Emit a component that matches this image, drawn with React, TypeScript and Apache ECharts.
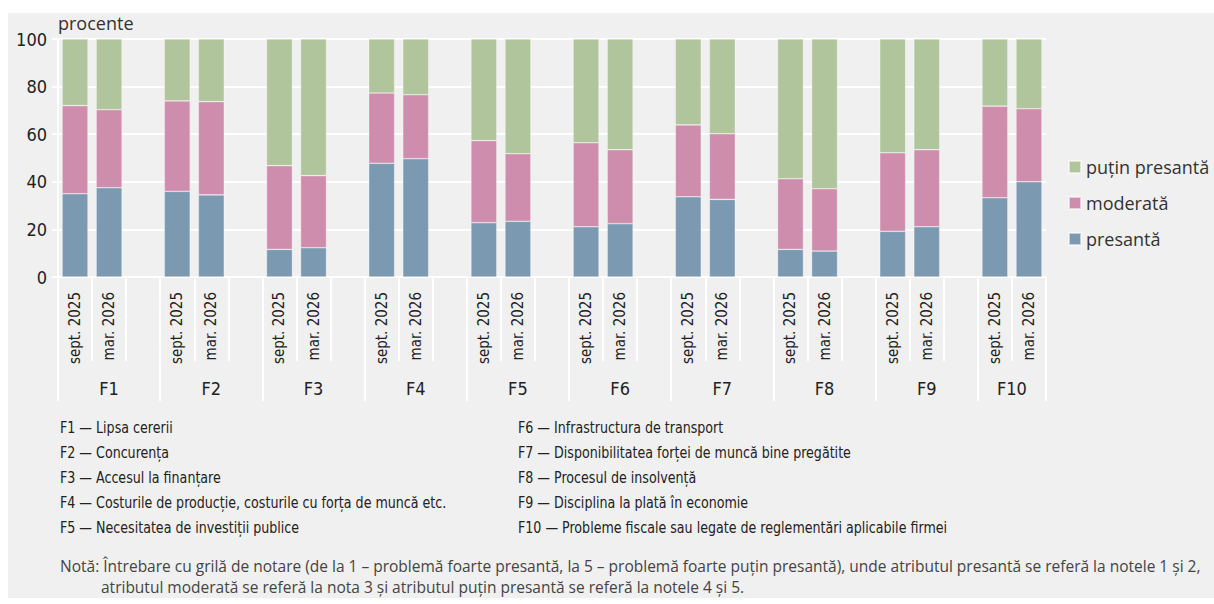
import React, { useEffect, useRef } from 'react';
import * as echarts from 'echarts';

const groups = ['F1', 'F2', 'F3', 'F4', 'F5', 'F6', 'F7', 'F8', 'F9', 'F10'];
const periods = ['sept. 2025', 'mar. 2026'];
// values per group: [sept. 2025, mar. 2026]
const presanta = [35.0, 37.5, 36.0, 34.5, 11.6, 12.3, 47.8, 49.7, 22.8, 23.4, 21.1, 22.4, 33.7, 32.6, 11.6, 10.9, 19.2, 21.1, 33.3, 40.0];
const moderata = [37.0, 32.8, 38.0, 39.2, 35.2, 30.3, 29.5, 26.9, 34.5, 28.4, 35.3, 31.1, 30.2, 27.6, 29.7, 26.2, 33.0, 32.4, 38.5, 30.7];
const putin = [28.0, 29.7, 26.0, 26.3, 53.2, 57.4, 22.7, 23.4, 42.7, 48.2, 43.6, 46.5, 36.1, 39.8, 58.7, 62.9, 47.8, 46.5, 28.2, 29.3];
const factorNames = [
  'Lipsa cererii',
  'Concurența',
  'Accesul la finanțare',
  'Costurile de producție, costurile cu forța de muncă etc.',
  'Necesitatea de investiții publice',
  'Infrastructura de transport',
  'Disponibilitatea forței de muncă bine pregătite',
  'Procesul de insolvență',
  'Disciplina la plată în economie',
  'Probleme fiscale sau legate de reglementări aplicabile firmei',
];
const unitLabel = 'procente';
const noteLines = [
  'Notă: Întrebare cu grilă de notare (de la 1 – problemă foarte presantă, la 5 – problemă foarte puțin presantă), unde atributul presantă se referă la notele 1 și 2,',
  'atributul moderată se referă la nota 3 și atributul puțin presantă se referă la notele 4 și 5.',
];
const colors: Record<string, string> = { 'presantă': '#7b9ab2', 'moderată': '#cf8dad', 'puțin presantă': '#b0c59b' };

const COND = '"Liberation Sans Narrow", "DejaVu Sans Condensed", sans-serif';
const REG = '"Open Sans", Lato, sans-serif';

// build the categories (with an empty slot between groups)
const categories: string[] = [];
const dPres: (number | string)[] = [];
const dMod: (number | string)[] = [];
const dPut: (number | string)[] = [];
const groupBounds: number[] = [];
const groupCenters: number[] = [];
groups.forEach((g, gi) => {
  const start = categories.length;
  groupBounds.push(start);
  periods.forEach((p, pi) => {
    categories.push(g + '|' + p);
    dPres.push(presanta[gi * 2 + pi]);
    dMod.push(moderata[gi * 2 + pi]);
    dPut.push(putin[gi * 2 + pi]);
  });
  if (gi < groups.length - 1) {
    categories.push(g + '|');
    dPres.push('-');
    dMod.push('-');
    dPut.push('-');
  }
  const end = gi < groups.length - 1 ? start + 3 : start + 2;
  groupCenters.push((start + end) / 2);
});
groupBounds.push(categories.length);

export default function App() {
  const ref = useRef<HTMLDivElement>(null);
  useEffect(() => {
    if (!ref.current) return;
    const chart = echarts.init(ref.current, null, { renderer: 'svg' });
    const mk = (name: string, data: (number | string)[]) => ({
      name,
      type: 'bar',
      stack: 'total',
      data,
      barWidth: '76%',
      itemStyle: { color: colors[name], borderColor: 'rgba(255,255,255,0.55)', borderWidth: 0.6 },
      emphasis: { disabled: true },
    });
    const graphics: any[] = [
      { type: 'rect', silent: true, z: -100, shape: { x: 8, y: 13, width: 1206, height: 585 }, style: { fill: '#f0f0f0' } },
      { type: 'text', x: 58, y: 23, style: { text: unitLabel, font: `18px ${REG}`, fill: '#333', verticalAlign: 'middle' } },
    ];
    factorNames.forEach((n, i) => {
      const col = i < 5 ? 0 : 1;
      const row = i % 5;
      graphics.push({
        type: 'text',
        x: col === 0 ? 60 : 518,
        y: 428 + row * 25,
        scaleX: 0.88,
        style: { text: `${groups[i]} — ${n}`, font: `16px ${COND}`, fill: '#222', verticalAlign: 'middle' },
      });
    });
    noteLines.forEach((t, i) => {
      graphics.push({
        type: 'text',
        x: i === 0 ? 60 : 101,
        y: 566 + i * 21,
        style: { text: t, font: `15.5px ${REG}`, fill: '#444', verticalAlign: 'middle' },
      });
    });
    chart.setOption({
      animation: false,
      grid: { left: 58, top: 39, width: 988, height: 238, containLabel: false },
      legend: {
        data: ['puțin presantă', 'moderată', 'presantă'],
        orient: 'vertical',
        left: 1068,
        top: 158,
        padding: 0,
        icon: 'rect',
        itemWidth: 12,
        itemHeight: 12,
        itemGap: 18,
        textStyle: { fontFamily: REG, fontSize: 18, color: '#333' },
        selectedMode: false,
      },
      xAxis: [
        {
          type: 'category',
          data: categories,
          axisLine: { show: true, lineStyle: { color: '#ffffff', width: 2 } },
          axisTick: { show: true, interval: 0, length: 84, lineStyle: { color: '#ffffff', width: 2 } },
          axisLabel: {
            interval: 0,
            rotate: 90,
            margin: 15,
            fontFamily: COND,
            fontSize: 15,
            color: '#222',
            formatter: (v: string) => v.split('|')[1],
          },
          splitLine: { show: false },
        },
        {
          type: 'value',
          min: 0,
          max: categories.length,
          position: 'bottom',
          axisLine: { show: false },
          splitLine: { show: false },
          axisTick: { show: true, customValues: groupBounds, length: 124, lineStyle: { color: '#ffffff', width: 2 } },
          axisLabel: {
            customValues: groupCenters,
            margin: 102,
            fontFamily: COND,
            fontSize: 18,
            color: '#222',
            formatter: (v: number) => {
              const i = groupCenters.findIndex((c) => Math.abs(c - v) < 0.01);
              return i >= 0 ? groups[i] : '';
            },
          },
        },
      ],
      yAxis: {
        type: 'value',
        min: 0,
        max: 100,
        interval: 20,
        axisLine: { show: true, lineStyle: { color: '#ffffff', width: 2 } },
        axisTick: { show: true, length: 6, lineStyle: { color: '#ffffff', width: 2 } },
        axisLabel: { margin: 11, fontFamily: COND, fontSize: 18, color: '#222' },
        splitLine: { show: true, lineStyle: { color: '#ffffff', width: 2 } },
      },
      series: [mk('presantă', dPres), mk('moderată', dMod), mk('puțin presantă', dPut)],
      graphic: graphics,
    });
    return () => chart.dispose();
  }, []);
  return <div ref={ref} style={{ position: 'fixed', left: 0, top: 0, width: 1214, height: 604, background: '#ffffff' }} />;
}
